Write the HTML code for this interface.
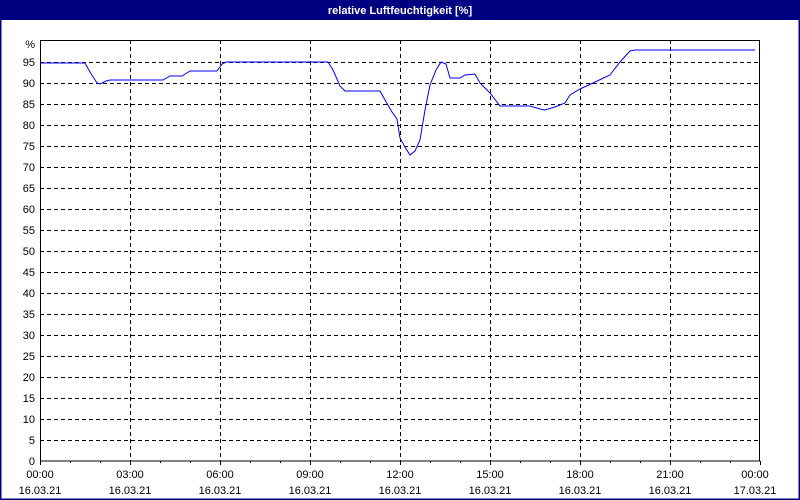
<html><body style="margin:0;background:#fff">
<svg width="800" height="500" xmlns="http://www.w3.org/2000/svg" font-family="Liberation Sans, sans-serif" font-size="11">
<rect x="0" y="0" width="800" height="500" fill="#fff"/>
<rect x="0.5" y="0.5" width="799" height="499" fill="none" stroke="#000080" stroke-width="2"/>
<rect x="0" y="0" width="800" height="20" fill="#000080"/>
<text x="400" y="14" text-anchor="middle" fill="#fff" font-weight="bold">relative Luftfeuchtigkeit [%]</text>
<g stroke="#000" stroke-dasharray="4,3" stroke-width="1">
<line x1="40" x2="760" y1="62.5" y2="62.5"/><line x1="40" x2="760" y1="83.5" y2="83.5"/><line x1="40" x2="760" y1="104.5" y2="104.5"/><line x1="40" x2="760" y1="125.5" y2="125.5"/><line x1="40" x2="760" y1="146.5" y2="146.5"/><line x1="40" x2="760" y1="167.5" y2="167.5"/><line x1="40" x2="760" y1="188.5" y2="188.5"/><line x1="40" x2="760" y1="209.5" y2="209.5"/><line x1="40" x2="760" y1="230.5" y2="230.5"/><line x1="40" x2="760" y1="251.5" y2="251.5"/><line x1="40" x2="760" y1="272.5" y2="272.5"/><line x1="40" x2="760" y1="293.5" y2="293.5"/><line x1="40" x2="760" y1="314.5" y2="314.5"/><line x1="40" x2="760" y1="335.5" y2="335.5"/><line x1="40" x2="760" y1="356.5" y2="356.5"/><line x1="40" x2="760" y1="377.5" y2="377.5"/><line x1="40" x2="760" y1="398.5" y2="398.5"/><line x1="40" x2="760" y1="419.5" y2="419.5"/><line x1="40" x2="760" y1="440.5" y2="440.5"/>
<line x1="130.5" x2="130.5" y1="40" y2="461"/><line x1="220.5" x2="220.5" y1="40" y2="461"/><line x1="310.5" x2="310.5" y1="40" y2="461"/><line x1="400.5" x2="400.5" y1="40" y2="461"/><line x1="490.5" x2="490.5" y1="40" y2="461"/><line x1="580.5" x2="580.5" y1="40" y2="461"/><line x1="670.5" x2="670.5" y1="40" y2="461"/>
</g>
<rect x="40.5" y="40.5" width="719" height="420.5" fill="none" stroke="#000"/>
<g stroke="#000">
<line x1="40.5" x2="40.5" y1="461" y2="465"/><line x1="70.5" x2="70.5" y1="461" y2="463"/><line x1="100.5" x2="100.5" y1="461" y2="463"/><line x1="130.5" x2="130.5" y1="461" y2="465"/><line x1="160.5" x2="160.5" y1="461" y2="463"/><line x1="190.5" x2="190.5" y1="461" y2="463"/><line x1="220.5" x2="220.5" y1="461" y2="465"/><line x1="250.5" x2="250.5" y1="461" y2="463"/><line x1="280.5" x2="280.5" y1="461" y2="463"/><line x1="310.5" x2="310.5" y1="461" y2="465"/><line x1="340.5" x2="340.5" y1="461" y2="463"/><line x1="370.5" x2="370.5" y1="461" y2="463"/><line x1="400.5" x2="400.5" y1="461" y2="465"/><line x1="430.5" x2="430.5" y1="461" y2="463"/><line x1="460.5" x2="460.5" y1="461" y2="463"/><line x1="490.5" x2="490.5" y1="461" y2="465"/><line x1="520.5" x2="520.5" y1="461" y2="463"/><line x1="550.5" x2="550.5" y1="461" y2="463"/><line x1="580.5" x2="580.5" y1="461" y2="465"/><line x1="610.5" x2="610.5" y1="461" y2="463"/><line x1="640.5" x2="640.5" y1="461" y2="463"/><line x1="670.5" x2="670.5" y1="461" y2="465"/><line x1="700.5" x2="700.5" y1="461" y2="463"/><line x1="730.5" x2="730.5" y1="461" y2="463"/><line x1="760.5" x2="760.5" y1="461" y2="465"/>
</g>
<g text-anchor="end" fill="#000">
<text x="35" y="48">%</text><text x="35" y="66">95</text><text x="35" y="87">90</text><text x="35" y="108">85</text><text x="35" y="129">80</text><text x="35" y="150">75</text><text x="35" y="171">70</text><text x="35" y="192">65</text><text x="35" y="213">60</text><text x="35" y="234">55</text><text x="35" y="255">50</text><text x="35" y="276">45</text><text x="35" y="297">40</text><text x="35" y="318">35</text><text x="35" y="339">30</text><text x="35" y="360">25</text><text x="35" y="381">20</text><text x="35" y="402">15</text><text x="35" y="423">10</text><text x="35" y="444">5</text><text x="35" y="465">0</text>
</g>
<g text-anchor="middle" fill="#000">
<text x="40" y="478">00:00</text><text x="40" y="494">16.03.21</text>
<text x="130" y="478">03:00</text><text x="130" y="494">16.03.21</text>
<text x="220" y="478">06:00</text><text x="220" y="494">16.03.21</text>
<text x="310" y="478">09:00</text><text x="310" y="494">16.03.21</text>
<text x="400" y="478">12:00</text><text x="400" y="494">16.03.21</text>
<text x="490" y="478">15:00</text><text x="490" y="494">16.03.21</text>
<text x="580" y="478">18:00</text><text x="580" y="494">16.03.21</text>
<text x="670" y="478">21:00</text><text x="670" y="494">16.03.21</text>
<text x="755" y="478">00:00</text><text x="755" y="494">17.03.21</text>
</g>
<polyline fill="none" stroke="#0000ff" stroke-width="1" points="41,63 85,63 90,72 97,83 100,84 106,81 110,80 163,80 170,76 182,76 190,71 217,71 222,64 226,62 328,62 333,70 340,86 345,91 380,91 385,100 392,112 397,119 400,138 405,147 410,155 415,151 420,140 425,110 430,85 436,70 441,62 446,64 450,78 460,78 465,75 475,74 480,83 490,93 500,106 530,106 540,109 545,110 555,107 565,103 570,95 580,89 595,82 610,75 620,62 630,51 635,50 755,50"/>
</svg>
</body></html>
